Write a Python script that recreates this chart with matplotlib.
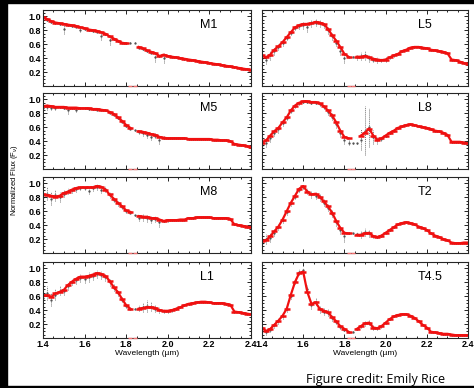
import numpy as np
import matplotlib
matplotlib.use("Agg")
import matplotlib.pyplot as plt
from matplotlib.ticker import MultipleLocator
from matplotlib.patches import Rectangle

plt.rcParams['font.family'] = ['Liberation Sans', 'DejaVu Sans']

# wavelength sampling (microns), 1.40 ... 2.40 in 0.02 steps
wavelength = np.linspace(1.4, 2.4, 51)
x_ticks = [1.4, 1.6, 1.8, 2.0, 2.2, 2.4]
x_labels = ['1.4', '1.6', '1.8', '2.0', '2.2', '2.4']
y_ticks = [0.2, 0.4, 0.6, 0.8, 1.0]

# ---- left column ----
m1_model = [0.99, 0.96, 0.93, 0.91, 0.90, 0.89, 0.88, 0.87, 0.86, 0.84,
            0.83, 0.81, 0.80, 0.79, 0.77, 0.75, 0.71, 0.68, 0.65, 0.62,
            0.61, None, None, 0.56, 0.54, 0.51, 0.49, 0.47, 0.43, 0.45,
            0.43, 0.42, 0.41, 0.40, 0.39, 0.38, 0.37, 0.36, 0.35, 0.34,
            0.33, 0.32, 0.31, 0.30, 0.29, 0.28, 0.27, 0.26, 0.25, 0.24,
            0.23]
m1_data = [0.98, 0.95, 0.92, 0.90, 0.89, 0.82, 0.87, 0.86, 0.85, 0.81,
           0.82, 0.80, 0.79, 0.78, 0.72, 0.74, 0.66, 0.67, 0.64, 0.62,
           0.61, 0.62, 0.62, 0.55, 0.53, 0.50, 0.48, 0.42, 0.43, 0.40,
           0.43, 0.42, 0.41, 0.40, 0.39, 0.38, 0.37, 0.36, 0.35, 0.34,
           0.33, 0.32, 0.31, 0.30, 0.29, 0.28, 0.27, 0.26, 0.25, 0.24,
           0.23]
m1_err = [0.02, 0.02, 0.02, 0.01, 0.01, 0.08, 0.01, 0.01, 0.01, 0.04,
          0.01, 0.01, 0.01, 0.01, 0.06, 0.01, 0.07, 0.01, 0.01, 0.01,
          0.01, 0.01, 0.01, 0.01, 0.01, 0.01, 0.01, 0.07, 0.01, 0.07,
          0.01, 0.01, 0.01, 0.01, 0.01, 0.01, 0.01, 0.01, 0.01, 0.01,
          0.01, 0.01, 0.01, 0.01, 0.01, 0.01, 0.01, 0.01, 0.01, 0.01,
          0.01]

m5_model = [0.90, 0.91, 0.90, 0.89, 0.89, 0.89, 0.88, 0.88, 0.88, 0.87,
            0.87, 0.87, 0.86, 0.86, 0.85, 0.84, 0.82, 0.79, 0.74, 0.69,
            0.63, 0.59, None, 0.54, 0.53, 0.52, 0.50, 0.49, 0.46, 0.45,
            0.44, 0.44, 0.44, 0.44, 0.44, 0.43, 0.43, 0.43, 0.43, 0.43,
            0.43, 0.42, 0.42, 0.41, 0.41, 0.40, 0.36, 0.35, 0.34, 0.33,
            0.31]
m5_data = [0.87, 0.89, 0.88, 0.87, 0.89, 0.88, 0.84, 0.87, 0.85, 0.87,
           0.87, 0.86, 0.86, 0.85, 0.85, 0.84, 0.81, 0.78, 0.73, 0.68,
           0.62, 0.58, 0.56, 0.53, 0.52, 0.49, 0.46, 0.48, 0.42, 0.45,
           0.44, 0.44, 0.44, 0.44, 0.44, 0.43, 0.43, 0.43, 0.43, 0.43,
           0.43, 0.42, 0.42, 0.41, 0.41, 0.40, 0.36, 0.35, 0.34, 0.33,
           0.31]
m5_err = [0.05, 0.04, 0.04, 0.03, 0.02, 0.02, 0.05, 0.01, 0.03, 0.01,
          0.01, 0.01, 0.01, 0.01, 0.01, 0.01, 0.01, 0.01, 0.01, 0.01,
          0.02, 0.01, 0.01, 0.03, 0.04, 0.04, 0.05, 0.04, 0.06, 0.02,
          0.01, 0.01, 0.01, 0.01, 0.01, 0.01, 0.01, 0.01, 0.01, 0.01,
          0.01, 0.01, 0.01, 0.01, 0.01, 0.01, 0.01, 0.01, 0.01, 0.01,
          0.01]

m8_model = [0.84, 0.83, 0.82, 0.81, 0.82, 0.86, 0.88, 0.91, 0.93, 0.94,
            0.94, 0.94, 0.94, 0.96, 0.95, 0.91, 0.84, 0.78, 0.72, 0.67,
            0.61, 0.59, None, 0.53, 0.52, 0.52, 0.50, 0.50, 0.48, 0.46,
            0.47, 0.47, 0.47, 0.48, 0.48, 0.50, 0.50, 0.51, 0.51, 0.51,
            0.51, 0.50, 0.50, 0.50, 0.50, 0.49, 0.41, 0.40, 0.39, 0.38,
            0.37]
m8_data = [0.80, 0.85, 0.78, 0.83, 0.80, 0.85, 0.89, 0.90, 0.92, 0.93,
           0.93, 0.89, 0.93, 0.95, 0.91, 0.92, 0.83, 0.76, 0.71, 0.66,
           0.60, 0.58, 0.54, 0.50, 0.51, 0.50, 0.48, 0.49, 0.44, 0.46,
           0.47, 0.47, 0.47, 0.48, 0.48, 0.50, 0.50, 0.51, 0.51, 0.51,
           0.51, 0.50, 0.50, 0.50, 0.50, 0.49, 0.41, 0.40, 0.39, 0.38,
           0.37]
m8_err = [0.10, 0.09, 0.09, 0.08, 0.07, 0.05, 0.04, 0.04, 0.04, 0.03,
          0.03, 0.05, 0.04, 0.04, 0.05, 0.04, 0.04, 0.03, 0.03, 0.03,
          0.02, 0.01, 0.01, 0.04, 0.05, 0.05, 0.05, 0.04, 0.06, 0.02,
          0.02, 0.01, 0.01, 0.01, 0.01, 0.01, 0.01, 0.01, 0.01, 0.01,
          0.01, 0.01, 0.01, 0.01, 0.01, 0.01, 0.01, 0.01, 0.01, 0.01,
          0.01]

l1_model = [0.61, 0.61, 0.59, 0.64, 0.66, 0.69, 0.76, 0.81, 0.85, 0.88,
            0.88, 0.89, 0.91, 0.93, 0.92, 0.89, 0.82, 0.73, 0.66, 0.56,
            0.47, 0.42, None, 0.42, 0.43, 0.44, 0.44, 0.43, 0.40, 0.39,
            0.39, 0.40, 0.42, 0.44, 0.47, 0.49, 0.50, 0.51, 0.52, 0.52,
            0.51, 0.50, 0.50, 0.50, 0.49, 0.48, 0.38, 0.37, 0.36, 0.35,
            0.34]
l1_data = [0.58, 0.65, 0.55, 0.62, 0.68, 0.67, 0.74, 0.80, 0.83, 0.86,
           0.85, 0.88, 0.89, 0.92, 0.90, 0.87, 0.80, 0.72, 0.64, 0.55,
           0.46, 0.42, 0.42, 0.43, 0.44, 0.46, 0.45, 0.42, 0.40, 0.39,
           0.39, 0.40, 0.42, 0.44, 0.47, 0.49, 0.50, 0.51, 0.52, 0.52,
           0.51, 0.50, 0.50, 0.50, 0.49, 0.48, 0.38, 0.37, 0.36, 0.35,
           0.34]
l1_err = [0.10, 0.10, 0.09, 0.08, 0.07, 0.05, 0.05, 0.04, 0.05, 0.06,
          0.06, 0.07, 0.06, 0.06, 0.06, 0.05, 0.05, 0.05, 0.04, 0.04,
          0.03, 0.01, 0.01, 0.04, 0.06, 0.08, 0.06, 0.05, 0.04, 0.03,
          0.03, 0.02, 0.02, 0.01, 0.01, 0.01, 0.01, 0.01, 0.01, 0.01,
          0.01, 0.01, 0.01, 0.01, 0.01, 0.01, 0.01, 0.01, 0.01, 0.01,
          0.01]

# ---- right column ----
l5_model = [0.44, 0.41, 0.45, 0.52, 0.57, 0.63, 0.70, 0.77, 0.84, 0.87,
            0.89, 0.89, 0.90, 0.92, 0.91, 0.89, 0.82, 0.73, 0.65, 0.56,
            0.46, 0.42, None, 0.42, 0.42, 0.43, 0.41, 0.39, 0.38, 0.37,
            0.38, 0.41, 0.44, 0.46, 0.50, 0.52, 0.55, 0.56, 0.56, 0.55,
            0.54, 0.52, 0.51, 0.50, 0.49, 0.47, 0.38, 0.37, 0.35, 0.33,
            0.32]
l5_data = [0.40, 0.38, 0.44, 0.50, 0.56, 0.61, 0.69, 0.76, 0.83, 0.86,
           0.87, 0.85, 0.90, 0.91, 0.90, 0.87, 0.80, 0.71, 0.62, 0.50,
           0.40, 0.42, 0.42, 0.41, 0.43, 0.44, 0.40, 0.38, 0.37, 0.37,
           0.38, 0.41, 0.44, 0.46, 0.50, 0.52, 0.55, 0.56, 0.56, 0.55,
           0.54, 0.52, 0.51, 0.50, 0.49, 0.47, 0.38, 0.37, 0.35, 0.33,
           0.32]
l5_err = [0.07, 0.07, 0.06, 0.05, 0.04, 0.04, 0.03, 0.03, 0.03, 0.04,
          0.05, 0.07, 0.05, 0.05, 0.05, 0.04, 0.05, 0.05, 0.05, 0.06,
          0.07, 0.01, 0.01, 0.04, 0.06, 0.06, 0.05, 0.04, 0.04, 0.03,
          0.03, 0.02, 0.02, 0.01, 0.01, 0.01, 0.01, 0.01, 0.01, 0.01,
          0.01, 0.01, 0.01, 0.01, 0.01, 0.01, 0.01, 0.01, 0.01, 0.01,
          0.01]

l8_model = [0.38, 0.41, 0.48, 0.54, 0.59, 0.67, 0.74, 0.84, 0.91, 0.95,
            0.97, 0.97, 0.96, 0.96, 0.94, 0.90, 0.84, 0.77, 0.67, 0.55,
            0.46, 0.44, None, None, 0.48, 0.52, 0.58, 0.48, 0.42, 0.44,
            0.48, 0.52, 0.55, 0.59, 0.61, 0.63, 0.64, 0.63, 0.61, 0.60,
            0.59, 0.57, 0.55, 0.54, 0.52, 0.49, 0.39, 0.39, 0.39, 0.38,
            0.37]
l8_data = [0.35, 0.38, 0.45, 0.52, 0.57, 0.66, 0.73, 0.83, 0.90, 0.94,
           0.96, 0.96, 0.95, 0.95, 0.93, 0.89, 0.82, 0.75, 0.64, 0.52,
           0.42, 0.38, 0.37, 0.37, 0.42, 0.55, 0.60, 0.46, 0.41, 0.43,
           0.48, 0.52, 0.55, 0.59, 0.61, 0.63, 0.64, 0.63, 0.61, 0.60,
           0.59, 0.57, 0.55, 0.54, 0.52, 0.49, 0.39, 0.39, 0.39, 0.38,
           0.37]
l8_err = [0.07, 0.07, 0.06, 0.05, 0.05, 0.04, 0.03, 0.03, 0.02, 0.02,
          0.02, 0.02, 0.02, 0.02, 0.02, 0.03, 0.04, 0.05, 0.05, 0.06,
          0.06, 0.03, 0.01, 0.01, 0.15, 0.35, 0.28, 0.10, 0.05, 0.03,
          0.02, 0.02, 0.01, 0.01, 0.01, 0.01, 0.01, 0.01, 0.01, 0.01,
          0.01, 0.01, 0.01, 0.01, 0.01, 0.01, 0.01, 0.01, 0.01, 0.01,
          0.01]

t2_model = [0.17, 0.18, 0.24, 0.31, 0.38, 0.48, 0.60, 0.72, 0.82, 0.92,
            0.96, 0.88, 0.84, 0.85, 0.81, 0.74, 0.67, 0.58, 0.46, 0.36,
            0.29, 0.28, None, 0.26, 0.26, 0.28, 0.29, 0.24, 0.23, 0.25,
            0.29, 0.33, 0.37, 0.41, 0.43, 0.44, 0.43, 0.41, 0.38, 0.36,
            0.33, 0.28, 0.25, 0.23, 0.20, 0.18, 0.15, 0.14, 0.14, 0.15,
            0.15]
t2_data = [0.14, 0.20, 0.22, 0.29, 0.37, 0.47, 0.59, 0.71, 0.81, 0.91,
           0.95, 0.89, 0.84, 0.82, 0.80, 0.72, 0.65, 0.56, 0.44, 0.33,
           0.24, 0.28, 0.28, 0.27, 0.27, 0.30, 0.28, 0.24, 0.23, 0.25,
           0.29, 0.33, 0.37, 0.41, 0.43, 0.44, 0.43, 0.41, 0.38, 0.36,
           0.33, 0.28, 0.25, 0.23, 0.20, 0.18, 0.15, 0.14, 0.14, 0.15,
           0.15]
t2_err = [0.07, 0.07, 0.06, 0.05, 0.04, 0.04, 0.04, 0.04, 0.04, 0.04,
          0.03, 0.04, 0.05, 0.05, 0.05, 0.05, 0.05, 0.05, 0.05, 0.06,
          0.08, 0.01, 0.01, 0.03, 0.05, 0.06, 0.05, 0.03, 0.02, 0.02,
          0.01, 0.01, 0.01, 0.01, 0.01, 0.01, 0.01, 0.01, 0.01, 0.01,
          0.01, 0.01, 0.01, 0.01, 0.01, 0.01, 0.01, 0.01, 0.01, 0.01,
          0.01]

t45_model = [0.15, 0.10, 0.13, 0.19, 0.25, 0.32, 0.42, 0.62, 0.80, 0.93,
             0.95, 0.66, 0.49, 0.51, 0.42, 0.39, 0.37, 0.30, 0.24, 0.17,
             0.13, 0.09, None, 0.13, 0.17, 0.21, 0.22, 0.15, 0.14, 0.17,
             0.22, 0.27, 0.31, 0.33, 0.34, 0.34, 0.32, 0.29, 0.24, 0.19,
             0.15, 0.09, 0.08, 0.07, 0.06, 0.06, 0.05, 0.04, 0.04, 0.04,
             0.04]
t45_data = [0.13, 0.09, 0.12, 0.18, 0.24, 0.31, 0.41, 0.60, 0.82, 0.95,
            0.98, 0.70, 0.47, 0.52, 0.41, 0.38, 0.36, 0.29, 0.23, 0.16,
            0.12, 0.09, 0.09, 0.13, 0.17, 0.21, 0.22, 0.15, 0.14, 0.17,
            0.22, 0.27, 0.31, 0.33, 0.34, 0.34, 0.32, 0.29, 0.24, 0.19,
            0.15, 0.09, 0.08, 0.07, 0.06, 0.06, 0.05, 0.04, 0.04, 0.04,
            0.04]
t45_err = [0.04, 0.04, 0.04, 0.04, 0.04, 0.04, 0.04, 0.04, 0.04, 0.04,
           0.03, 0.06, 0.06, 0.05, 0.05, 0.05, 0.05, 0.04, 0.03, 0.03,
           0.02, 0.01, 0.01, 0.02, 0.03, 0.04, 0.04, 0.03, 0.02, 0.02,
           0.01, 0.01, 0.01, 0.01, 0.01, 0.01, 0.01, 0.01, 0.01, 0.01,
           0.01, 0.01, 0.01, 0.01, 0.01, 0.01, 0.01, 0.01, 0.01, 0.01,
           0.01]

# clipped model points in the telluric gap, drawn on the bottom axis
gap_wl = [1.82, 1.84]
gap_flux = [0.0, 0.0]

left_panels = [("M1", m1_model, m1_data, m1_err),
               ("M5", m5_model, m5_data, m5_err),
               ("M8", m8_model, m8_data, m8_err),
               ("L1", l1_model, l1_data, l1_err)]
right_panels = [("L5", l5_model, l5_data, l5_err),
                ("L8", l8_model, l8_data, l8_err),
                ("T2", t2_model, t2_data, t2_err),
                ("T4.5", t45_model, t45_data, t45_err)]

W, H = 474, 388
fig = plt.figure(figsize=(W / 100, H / 100), dpi=100)

rows_px = [(10, 86), (93, 169), (177, 253), (262, 338)]
cols_px = [(43, 251), (262, 468)]


def draw_panel(ax, name, model, data, err, left, bottom):
    ebar = ax.errorbar(wavelength, data, yerr=err, fmt='.', color='0.3',
                       ecolor='0.45', ms=1.3, elinewidth=0.7, capsize=0,
                       zorder=1)
    ebar[2][0].set_linestyle((0, (1, 1)))
    ax.plot(wavelength, np.array(model, dtype=float), ls='-', lw=1.6,
            marker='_', ms=4.5, mew=1.8, color='#f01010', zorder=2)
    ax.plot(gap_wl, gap_flux, ls='none', marker='_', ms=3, mew=1,
            color='#f07070', clip_on=False, zorder=3)
    ax.set_xlim(1.4, 2.4)
    ax.set_ylim(0, 1.09)
    ax.set_xticks(x_ticks)
    ax.xaxis.set_minor_locator(MultipleLocator(0.05))
    ax.set_yticks(y_ticks)
    ax.yaxis.set_minor_locator(MultipleLocator(0.05))
    ax.tick_params(which='both', direction='in', top=True, right=True,
                   width=0.6, labelsize=6.5, pad=1.5)
    ax.tick_params(which='major', length=3)
    ax.tick_params(which='minor', length=1.6)
    for sp in ax.spines.values():
        sp.set_linewidth(0.8)
        sp.set_color('0.15')
    ax.text(0.755, 0.80, name, transform=ax.transAxes, fontsize=9,
            ha='left', va='center')
    if not left:
        ax.set_yticklabels([])
    else:
        ax.set_yticklabels(['0.2', '0.4', '0.6', '0.8', '1.0'],
                           fontweight='bold')
    if not bottom:
        ax.set_xticklabels([])
    else:
        ax.set_xticklabels(x_labels, fontweight='bold')
        ax.set_xlabel('Wavelength (\u00b5m)', fontsize=6, labelpad=1)


for ci, panels in enumerate([left_panels, right_panels]):
    x0, x1 = cols_px[ci]
    for ri, (name, model, data, err) in enumerate(panels):
        top, bot = rows_px[ri]
        ax = fig.add_axes([x0 / W, 1 - bot / H, (x1 - x0) / W, (bot - top) / H])
        draw_panel(ax, name, model, data, err, ci == 0, ri == 3)

fig.text(15 / W, 1 - 180 / H, 'Normalized Flux (F$_\\nu$)', rotation=90,
         fontsize=5.5, ha='center', va='center')
fig.text(445 / W, 1 - 379 / H, 'Figure credit: Emily Rice',
         family='Open Sans', fontsize=9, ha='right', va='center')

# black frame strips of the original screenshot
for (x, y, w, h) in [(0, 0, 7, H), (0, H - 3, W, 3), (0, 0, W, 2)]:
    fig.patches.append(Rectangle((x / W, y / H), w / W, h / H, color='black',
                                 transform=fig.transFigure, zorder=10))

fig.savefig('out.png', dpi=100)
